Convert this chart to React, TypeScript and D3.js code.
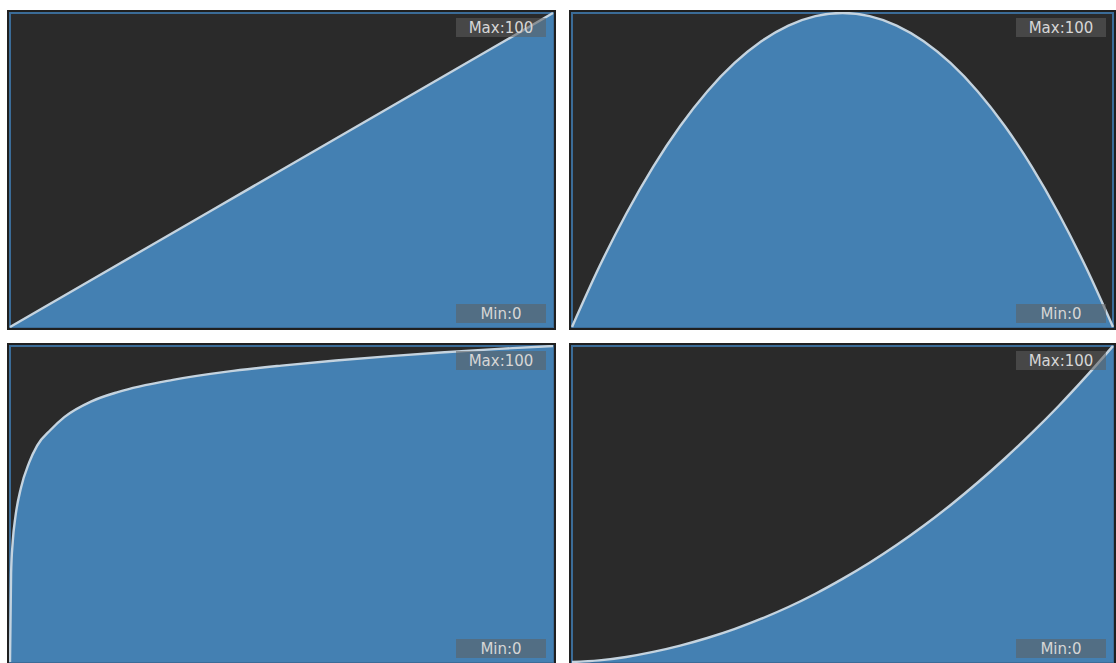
import React from "react";
import * as d3 from "d3";

// ---- data ----
const linearX = [0, 25, 50, 75, 100];
const linearY = [0, 25, 50, 75, 100];

const archX = [0, 5, 10, 15, 20, 25, 30, 35, 40, 45, 50, 55, 60, 65, 70, 75, 80, 85, 90, 95, 100];
const archY = [0, 19, 36, 51, 64, 75, 84, 91, 96, 99, 100, 99, 96, 91, 84, 75, 64, 51, 36, 19, 0];

const logX = [0, 0.2, 0.5, 1, 2, 3.5, 5, 7.5, 10, 15, 20, 30, 40, 50, 60, 70, 80, 90, 100];
const logY = [0, 28, 38, 46, 55, 63, 68.5, 73.5, 77.5, 82.5, 85.5, 89.3, 91.9, 93.8, 95.4, 96.8, 98, 99.1, 100];

const powX = [0, 5, 10, 15, 20, 25, 30, 35, 40, 45, 50, 55, 60, 65, 70, 75, 80, 85, 90, 95, 100];
const powY = [0, 0.5, 1.6, 3.2, 5.2, 7.6, 10.4, 13.7, 17.4, 21.6, 26.3, 31.4, 37, 43.1, 49.7, 56.8, 64.4, 72.5, 81.1, 90.3, 100];

const maxLabel = "Max:100";
const minLabel = "Min:0";

const panels = [
  { xs: linearX, ys: linearY, x: 7, y: 10, w: 549, h: 320 },
  { xs: archX, ys: archY, x: 569, y: 10, w: 547, h: 320 },
  { xs: logX, ys: logY, x: 7, y: 343, w: 549, h: 322 },
  { xs: powX, ys: powY, x: 569, y: 343, w: 547, h: 322 },
];

function Panel({ xs, ys, x, y, w, h, idx }: any) {
  const inset = 3;
  const px0 = x + inset;
  const px1 = x + w - inset;
  const py0 = y + inset;
  const py1 = y + h - inset;
  const sx = d3.scaleLinear().domain([0, 100]).range([px0, px1]);
  const sy = d3.scaleLinear().domain([0, 100]).range([py1, py0]);
  const pts: [number, number][] = xs.map((v: number, i: number) => [v, ys[i]]);
  const area = d3
    .area<[number, number]>()
    .x((d) => sx(d[0]))
    .y0(sy(0))
    .y1((d) => sy(d[1]))
    .curve(d3.curveMonotoneX);
  const line = d3
    .line<[number, number]>()
    .x((d) => sx(d[0]))
    .y((d) => sy(d[1]))
    .curve(d3.curveMonotoneX);
  const clipId = `clip-${idx}`;
  const boxW = 90;
  const boxH = 19;
  const boxX = x + w - 10 - boxW;
  return (
    <g>
      <defs>
        <clipPath id={clipId}>
          <rect x={px0 - 1} y={py0 - 1} width={px1 - px0 + 2} height={py1 - py0 + 2} />
        </clipPath>
      </defs>
      <rect x={x} y={y} width={w} height={h} fill="#202020" />
      <rect
        x={x + 3}
        y={y + 3}
        width={w - 6}
        height={h - 6}
        fill="#2a2a2a"
        stroke="#3b6c98"
        strokeWidth={2}
      />
      <g clipPath={`url(#${clipId})`}>
        <path d={area(pts) || ""} fill="#4480b2" />
        <path d={line(pts) || ""} fill="none" stroke="#c4d3df" strokeWidth={2.4} />
      </g>
      <rect x={boxX} y={y + 8} width={boxW} height={boxH} fill="rgba(95,95,95,0.55)" />
      <text
        x={boxX + boxW / 2}
        y={y + 8 + boxH / 2 + 0.5}
        textAnchor="middle"
        dominantBaseline="central"
        fontFamily="DejaVu Sans, sans-serif"
        fontSize={15}
        fill="#d6d6d6"
      >
        {maxLabel}
      </text>
      <rect x={boxX} y={y + h - 26} width={boxW} height={boxH} fill="rgba(95,95,95,0.55)" />
      <text
        x={boxX + boxW / 2}
        y={y + h - 26 + boxH / 2 + 0.5}
        textAnchor="middle"
        dominantBaseline="central"
        fontFamily="DejaVu Sans, sans-serif"
        fontSize={15}
        fill="#d6d6d6"
      >
        {minLabel}
      </text>
    </g>
  );
}

export default function App() {
  return (
    <svg
      width={1116}
      height={663}
      style={{ position: "absolute", left: 0, top: 0, display: "block", background: "#ffffff" }}
    >
      {panels.map((p, i) => (
        <Panel key={i} idx={i} {...p} />
      ))}
    </svg>
  );
}
